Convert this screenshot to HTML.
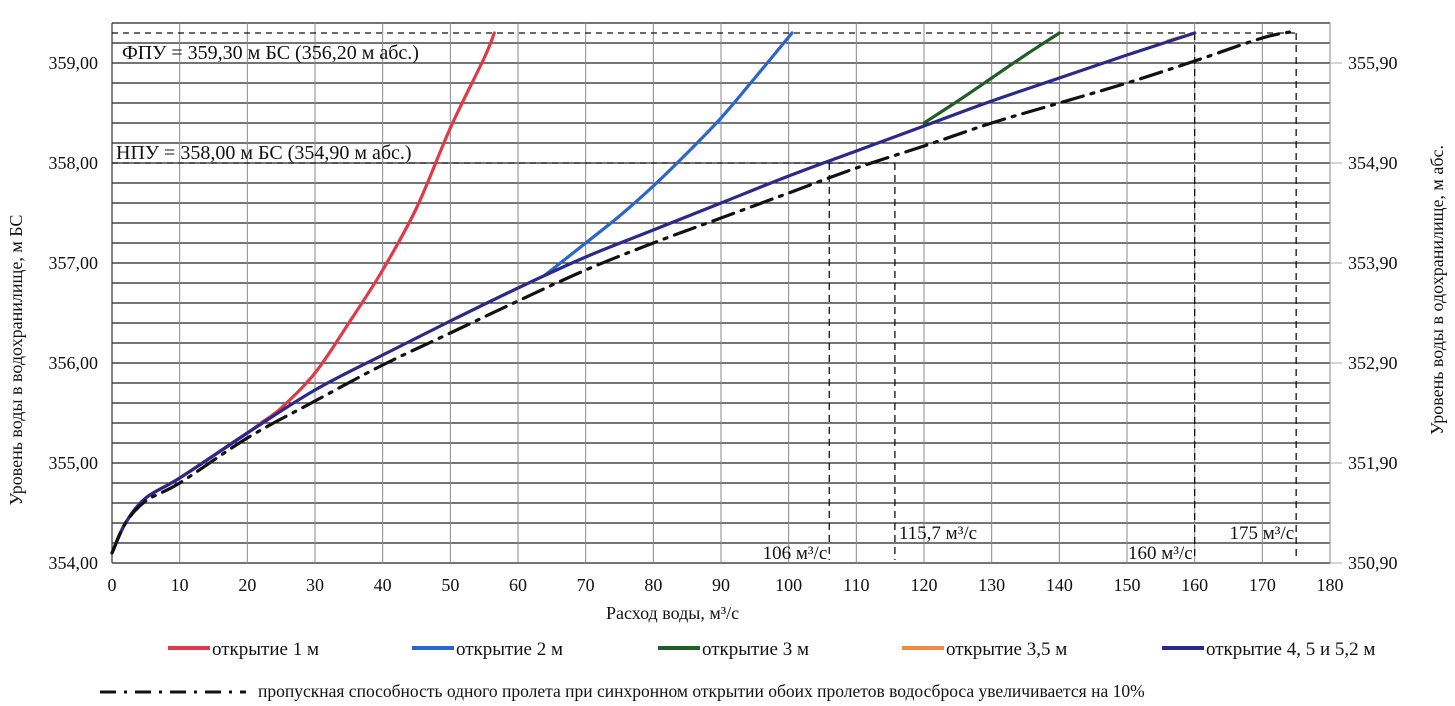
<!DOCTYPE html>
<html><head><meta charset="utf-8"><style>
html,body{margin:0;padding:0;background:#fff;}
svg{display:block;font-family:"Liberation Serif",serif;}
</style></head><body>
<svg id="c" width="1455" height="706"></svg>
<script>
const xTicks=[0,10,20,30,40,50,60,70,80,90,100,110,120,130,140,150,160,170,180];
const yTicks=[354,355,356,357,358,359];
const yLabels=["354,00","355,00","356,00","357,00","358,00","359,00"];
const yRightLabels=["350,90","351,90","352,90","353,90","354,90","355,90"];
const red_x=[0,2,5,10,20,22,25,30,35,40,45,50,55,56.5];
const red_y=[354.1,354.4,354.65,354.85,355.3,355.4,355.55,355.9,356.4,356.93,357.55,358.35,359.05,359.3];
const blue_x=[64,70,75,80,85,90,95,100.5];
const blue_y=[356.88,357.2,357.47,357.77,358.1,358.45,358.85,359.3];
const green_x=[120,125,130,135,140];
const green_y=[358.4,358.62,358.85,359.08,359.3];
const orange_x=[156,160];
const orange_y=[359.22,359.3];
const navy_x=[0,2,5,10,20,30,40,50,60,70,80,90,100,110,120,130,140,150,160];
const navy_y=[354.1,354.4,354.65,354.85,355.3,355.73,356.08,356.42,356.75,357.06,357.33,357.6,357.87,358.12,358.37,358.62,358.85,359.08,359.3];
const black_x=[0,2,5,10,20,30,40,50,60,70,80,90,100,110,120,130,140,150,160,170,175];
const black_y=[354.1,354.4,354.62,354.8,355.25,355.62,355.98,356.3,356.62,356.93,357.2,357.45,357.7,357.95,358.17,358.4,358.6,358.8,359.02,359.25,359.32];
const markX=[106,115.7,160,175];
const markTop=[358.0,358.0,359.3,359.3];
const markLabels=["106 м³/с","115,7 м³/с","160 м³/с","175 м³/с"];

const X=v=>112+v*(1330-112)/180;
const Y=v=>563-(v-354)*100;
const svg=document.getElementById('c');
const NS='http://www.w3.org/2000/svg';
function mk(tag,attrs,parent){const e=document.createElementNS(NS,tag);for(const k in attrs)e.setAttribute(k,attrs[k]);(parent||svg).appendChild(e);return e;}
function txt(s,x,y,attrs){const t=mk('text',Object.assign({x:x,y:y,'font-size':18,fill:'#111'},attrs||{}));t.textContent=s;return t;}

const grid=mk('g',{});


for(let v=354;v<=359.41;v+=0.2){mk('line',{x1:X(0),x2:X(180),y1:Y(v),y2:Y(v),stroke:'#222','stroke-width':1.2},grid);}
for(const t of xTicks){mk('line',{x1:X(t),x2:X(t),y1:Y(359.4),y2:Y(354),stroke:'#888','stroke-width':1},grid);}
mk('line',{x1:X(0),x2:X(0),y1:Y(359.4),y2:Y(354),stroke:'#333','stroke-width':1.2},grid);
for(const t of yTicks){mk('line',{x1:X(180),x2:X(180)+12,y1:Y(t),y2:Y(t),stroke:'#aaa','stroke-width':1},grid);}

for(const t of xTicks){const e=txt(String(t),X(t),591,{'text-anchor':'middle'});

}
yTicks.forEach((t,i)=>{const e=txt(yLabels[i],98,Y(t)+6,{'text-anchor':'end'});


const r=txt(yRightLabels[i],1348,Y(t)+6,{});

});

const xt=txt('Расход воды, м³/с',X(90)-115,619,{});


const yt=txt('Уровень воды в водохранилище,  м БС',0,0,{transform:'translate(22,360) rotate(-90)','text-anchor':'middle'});


const yr=txt('Уровень воды в одохранилище, м абс.',0,0,{transform:'translate(1443,290) rotate(-90)','text-anchor':'middle'});



const h1=mk('line',{x1:X(0),x2:X(175),y1:Y(359.3),y2:Y(359.3),stroke:'#111','stroke-width':1.2,'stroke-dasharray':'6,5'});


const h2=mk('line',{x1:X(0),x2:X(115.7),y1:Y(358),y2:Y(358),stroke:'#111','stroke-width':1.2,'stroke-dasharray':'6,5'});


const l1=txt('ФПУ = 359,30 м БС (356,20 м абс.)',122,59,{'font-size':20});


const l2=txt('НПУ = 358,00 м БС (354,90 м абс.)',116,159,{'font-size':20});


markX.forEach((m,i)=>{const v=mk('line',{x1:X(m),x2:X(m),y1:Y(markTop[i]),y2:Y(354)-3,stroke:'#111','stroke-width':1.3,'stroke-dasharray':'7,5'});


const lowRow=(i===0||i===2);
const t=txt(markLabels[i],i===1?X(m)+4:X(m)-2,lowRow?559:539,{'text-anchor':(i===1?'start':'end'),'font-size':19});

});

function path(xs,ys){
  const p=xs.map((x,i)=>[X(x),Y(ys[i])]);
  let d='M'+p[0][0].toFixed(1)+','+p[0][1].toFixed(1);
  for(let i=0;i<p.length-1;i++){
    const p0=p[Math.max(0,i-1)],p1=p[i],p2=p[i+1],p3=p[Math.min(p.length-1,i+2)];
    const c1=[p1[0]+(p2[0]-p0[0])/6,p1[1]+(p2[1]-p0[1])/6];
    const c2=[p2[0]-(p3[0]-p1[0])/6,p2[1]-(p3[1]-p1[1])/6];
    d+=' C'+c1.map(v=>v.toFixed(1)).join(',')+' '+c2.map(v=>v.toFixed(1)).join(',')+' '+p2.map(v=>v.toFixed(1)).join(',');
  }
  return d;
}
function series(xs,ys,col,name,dash){const p=mk('path',{d:path(xs,ys),fill:'none',stroke:col,'stroke-width':3.2,'stroke-linejoin':'round','stroke-linecap':'round'});
if(dash)p.setAttribute('stroke-dasharray',dash);

}
series(red_x,red_y,'#e03a4a','series-opening-1m');
series(blue_x,blue_y,'#2a66cc','series-opening-2m');
series(green_x,green_y,'#1f5e24','series-opening-3m');
series(orange_x,orange_y,'#f08a40','series-opening-3-5m');
series(navy_x,navy_y,'#2b2a8a','series-opening-4-5-5-2m');
series(black_x,black_y,'#111','series-capacity-plus-10',' 22,8,3,8');

const leg=[['#e03a4a','открытие 1 м',168],['#2a66cc','открытие 2 м',412],['#1f5e24','открытие 3 м',658],['#f08a40','открытие 3,5 м',902],['#2b2a8a','открытие 4, 5 и 5,2 м',1162]];
for(const [c,s,x] of leg){const g=mk('g',{});


mk('line',{x1:x,x2:x+42,y1:648,y2:648,stroke:c,'stroke-width':4},g);
const t=txt(s,x+44,655,{'font-size':19});g.appendChild(t);}
const g2=mk('g',{});


mk('line',{x1:100,x2:246,y1:692,y2:692,stroke:'#111','stroke-width':3,'stroke-dasharray':'16,8,3,8'},g2);
g2.appendChild(txt('пропускная способность одного пролета при синхронном открытии обоих пролетов водосброса увеличивается на 10%',258,697,{'font-size':17.5}));
</script>
</body></html>
